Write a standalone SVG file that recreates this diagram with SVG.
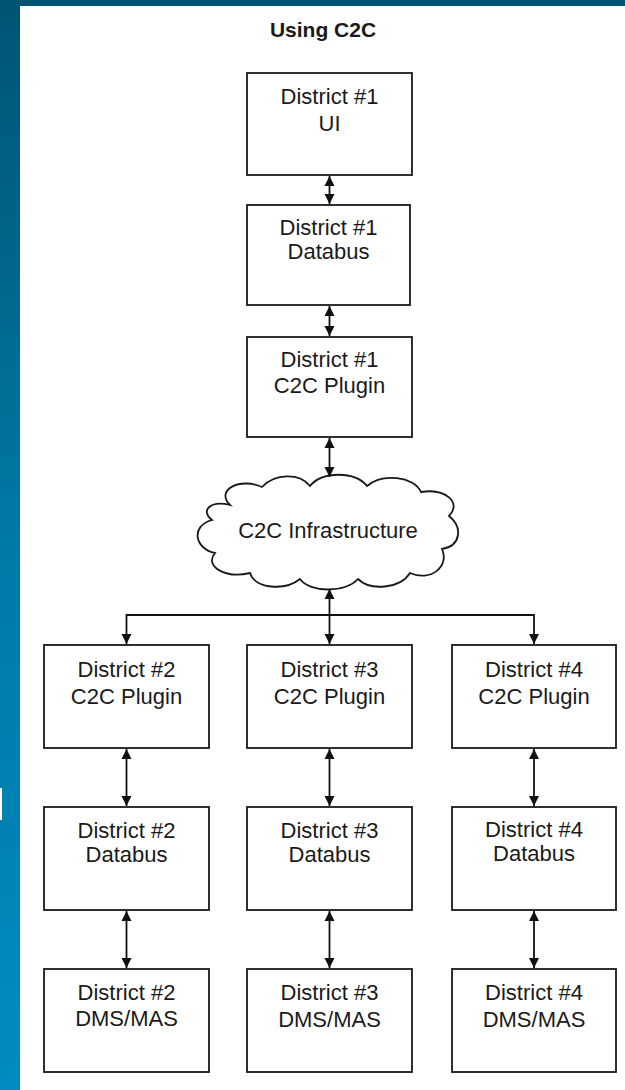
<svg xmlns="http://www.w3.org/2000/svg" width="625" height="1090" viewBox="0 0 625 1090">
<defs>
<linearGradient id="bg" x1="0" y1="0" x2="0" y2="1">
<stop offset="0" stop-color="#005473"/>
<stop offset="0.5" stop-color="#0079a6"/>
<stop offset="1" stop-color="#008cc0"/>
</linearGradient>
<marker id="ah" viewBox="0 0 10 10" refX="10" refY="5" markerWidth="10" markerHeight="11" markerUnits="userSpaceOnUse" orient="auto-start-reverse">
<path d="M0,0 L10,5 L0,10 z" fill="#111"/>
</marker>
<style>
.box{fill:#fff;stroke:#1a1a1a;stroke-width:1.8}
.t{font-family:"Liberation Sans",Arial,sans-serif;font-size:22px;fill:#1a1a1a;text-anchor:middle}
.title{font-family:"Liberation Sans",Arial,sans-serif;font-size:21px;font-weight:bold;fill:#1a1a1a;text-anchor:middle}
.c{fill:none;stroke:#111;stroke-width:1.8}
</style>
</defs>
<rect x="0" y="0" width="625" height="1090" fill="url(#bg)"/>
<rect x="20" y="6" width="605" height="1084" fill="#fff"/>
<rect x="0" y="788" width="2" height="32" fill="#fff"/>
<text class="title" x="323" y="37">Using C2C</text>

<g id="d1-ui"><rect class="box" x="247" y="73" width="165" height="102"/><text class="t" x="329.5" y="104">District #1</text><text class="t" x="329.5" y="131">UI</text></g>
<g id="d1-databus"><rect class="box" x="247" y="205" width="163" height="100"/><text class="t" x="328.5" y="235">District #1</text><text class="t" x="328.5" y="259">Databus</text></g>
<g id="d1-plugin"><rect class="box" x="247" y="337" width="165" height="100"/><text class="t" x="329.5" y="367">District #1</text><text class="t" x="329.5" y="393">C2C Plugin</text></g>
<g id="cloud"><path d="M230,505 C215,490 240,477 262,487 C275,473 300,473 310,486 C322,471 355,471 367,486 C382,473 414,476 421,492 C446,488 462,503 449,516 C463,527 461,546 442,549 C450,567 430,582 410,573 C400,589 370,591 358,579 C345,593 310,593 300,579 C285,591 255,589 250,573 C225,579 204,566 215,553 C195,549 190,526 212,520 C200,511 210,500 230,505 Z" fill="#fff" stroke="#1a1a1a" stroke-width="1.8"/><text class="t" x="328" y="538">C2C Infrastructure</text></g>

<g id="d2-plugin"><rect class="box" x="44" y="645" width="165" height="103"/><text class="t" x="126.5" y="677">District #2</text><text class="t" x="126.5" y="704">C2C Plugin</text></g>
<g id="d3-plugin"><rect class="box" x="247" y="645" width="165" height="103"/><text class="t" x="329.5" y="677">District #3</text><text class="t" x="329.5" y="704">C2C Plugin</text></g>
<g id="d4-plugin"><rect class="box" x="452" y="645" width="164" height="103"/><text class="t" x="534" y="677">District #4</text><text class="t" x="534" y="704">C2C Plugin</text></g>

<g id="d2-databus"><rect class="box" x="44" y="807" width="165" height="103"/><text class="t" x="126.5" y="838">District #2</text><text class="t" x="126.5" y="862">Databus</text></g>
<g id="d3-databus"><rect class="box" x="247" y="807" width="165" height="103"/><text class="t" x="329.5" y="838">District #3</text><text class="t" x="329.5" y="862">Databus</text></g>
<g id="d4-databus"><rect class="box" x="452" y="807" width="164" height="103"/><text class="t" x="534" y="837">District #4</text><text class="t" x="534" y="861">Databus</text></g>

<g id="d2-dms"><rect class="box" x="44" y="969" width="165" height="103"/><text class="t" x="126.5" y="1000">District #2</text><text class="t" x="126.5" y="1026">DMS/MAS</text></g>
<g id="d3-dms"><rect class="box" x="247" y="969" width="165" height="103"/><text class="t" x="329.5" y="1000">District #3</text><text class="t" x="329.5" y="1027">DMS/MAS</text></g>
<g id="d4-dms"><rect class="box" x="452" y="969" width="164" height="103"/><text class="t" x="534" y="1000">District #4</text><text class="t" x="534" y="1027">DMS/MAS</text></g>

<g id="connectors">
<line class="c" x1="329.5" y1="176" x2="329.5" y2="204" marker-start="url(#ah)" marker-end="url(#ah)"/>
<line class="c" x1="329.5" y1="306" x2="329.5" y2="336" marker-start="url(#ah)" marker-end="url(#ah)"/>
<line class="c" x1="329.5" y1="438" x2="329.5" y2="477" marker-start="url(#ah)" marker-end="url(#ah)"/>
<line class="c" x1="329.5" y1="589" x2="329.5" y2="644" marker-start="url(#ah)" marker-end="url(#ah)"/>
<polyline class="c" points="126.5,644 126.5,615 534,615 534,644" marker-start="url(#ah)" marker-end="url(#ah)"/>
<line class="c" x1="126.5" y1="749" x2="126.5" y2="806" marker-start="url(#ah)" marker-end="url(#ah)"/>
<line class="c" x1="329.5" y1="749" x2="329.5" y2="806" marker-start="url(#ah)" marker-end="url(#ah)"/>
<line class="c" x1="534" y1="749" x2="534" y2="806" marker-start="url(#ah)" marker-end="url(#ah)"/>
<line class="c" x1="126.5" y1="911" x2="126.5" y2="968" marker-start="url(#ah)" marker-end="url(#ah)"/>
<line class="c" x1="329.5" y1="911" x2="329.5" y2="968" marker-start="url(#ah)" marker-end="url(#ah)"/>
<line class="c" x1="534" y1="911" x2="534" y2="968" marker-start="url(#ah)" marker-end="url(#ah)"/>
</g>
</svg>
